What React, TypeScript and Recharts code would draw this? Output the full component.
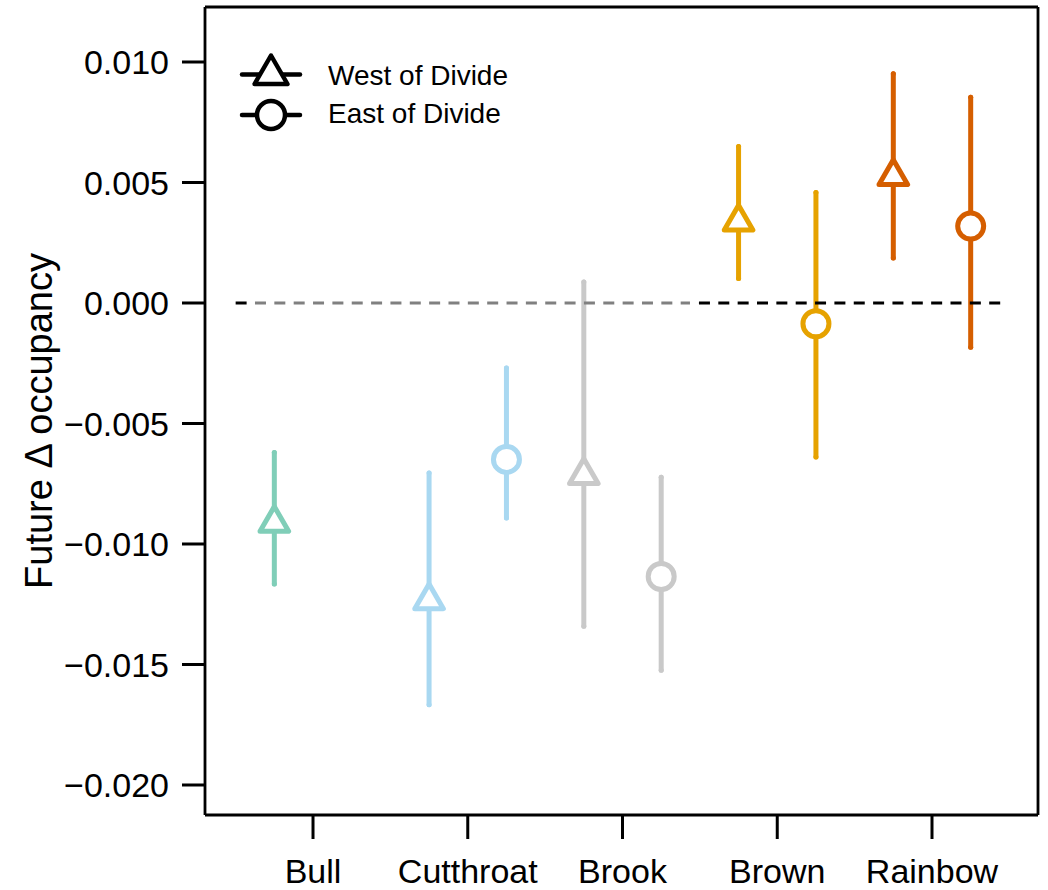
import { ScatterChart, Scatter, XAxis, YAxis, ErrorBar, ReferenceLine, Legend } from "recharts"

const species = ["Bull", "Cutthroat", "Brook", "Brown", "Rainbow"]
const colors = ["#80ceb8", "#a9d8f1", "#c9c9c9", "#e6a200", "#d55e00"]

// West of Divide (triangles)
const westMean = [-0.00913, -0.01234, -0.00715, 0.00337, 0.00526]
const westLow = [-0.01166, -0.01667, -0.01341, 0.00102, 0.00187]
const westHigh = [-0.0062, -0.00705, 0.00087, 0.00649, 0.00951]

// East of Divide (circles); no estimate for Bull
const eastMean = [null, -0.00649, -0.01135, -0.00086, 0.00319]
const eastLow = [null, -0.00892, -0.01524, -0.00639, -0.00184]
const eastHigh = [null, -0.0027, -0.00723, 0.00458, 0.00854]

const yTicks = [-0.02, -0.015, -0.01, -0.005, 0, 0.005, 0.01]
const xTicks = [1, 2, 3, 4, 5]

const FONT = "'Liberation Sans', Arial, Helvetica, sans-serif"
const X_DOMAIN: [number, number] = [0.302, 5.685]
const Y_DOMAIN: [number, number] = [-0.021245, 0.012282]

const seriesFor = (i: number) => {
  const pts = [
    { x: i + 1 - 0.25, y: westMean[i], err: [westMean[i] - westLow[i], westHigh[i] - westMean[i]], side: "west" },
  ]
  const m = eastMean[i]
  if (m !== null) {
    pts.push({ x: i + 1 + 0.25, y: m, err: [m - (eastLow[i] as number), (eastHigh[i] as number) - m], side: "east" })
  }
  return pts
}

const fmtY = (v: number) => (v < 0 ? "\u2212" + Math.abs(v).toFixed(3) : v.toFixed(3))

const makeShape = (color: string) => (props: any) => {
  const { cx, cy, payload } = props
  if (payload.side === "west") {
    const r = 16.5
    const h = r * 0.866
    return (
      <path
        d={`M${cx},${cy - r}L${cx + h},${cy + r / 2}L${cx - h},${cy + r / 2}Z`}
        fill="#fff"
        stroke={color}
        strokeWidth={5}
        strokeLinejoin="round"
      />
    )
  }
  return <circle cx={cx} cy={cy} r={13} fill="#fff" stroke={color} strokeWidth={5} />
}

const renderLegend = () => (
  <svg width={320} height={100} style={{ display: "block", overflow: "visible" }}>
    <line x1={12} x2={70} y1={34.5} y2={34.5} stroke="#000" strokeWidth={4.5} strokeLinecap="round" />
    <path
      d={`M41,${34.5 - 19}L${41 + 19 * 0.866},${34.5 + 9.5}L${41 - 19 * 0.866},${34.5 + 9.5}Z`}
      fill="#fff"
      stroke="#000"
      strokeWidth={4.5}
      strokeLinejoin="round"
    />
    <text x={98} y={45} fontSize={28} fontFamily={FONT} fill="#000">
      West of Divide
    </text>
    <line x1={12} x2={70} y1={75} y2={75} stroke="#000" strokeWidth={4.5} strokeLinecap="round" />
    <circle cx={41} cy={75} r={14} fill="#fff" stroke="#000" strokeWidth={4.5} />
    <text x={98} y={83} fontSize={28} fontFamily={FONT} fill="#000">
      East of Divide
    </text>
  </svg>
)

const YLabel = () => (
  <text
    x={52}
    y={421}
    transform="rotate(-90 52 421)"
    textAnchor="middle"
    fontSize={38}
    fontFamily={FONT}
    fill="#000"
  >
    Future Δ occupancy
  </text>
)

export default function App() {
  return (
    <div style={{ position: "absolute", left: 0, top: 0, width: 1048, height: 890, background: "#fff" }}>
      <ScatterChart width={1048} height={890} margin={{ top: 7, right: 10, bottom: 0, left: 0 }}>
        <XAxis
          type="number"
          dataKey="x"
          domain={X_DOMAIN}
          ticks={xTicks}
          allowDataOverflow
          tickFormatter={(v: number) => species[v - 1]}
          height={75}
          tickSize={24}
          tickMargin={20}
          axisLine={{ stroke: "#000", strokeWidth: 2.8 }}
          tickLine={{ stroke: "#000", strokeWidth: 3 }}
          tick={{ fontSize: 34, fill: "#000", fontFamily: FONT }}
        />
        <YAxis
          type="number"
          dataKey="y"
          domain={Y_DOMAIN}
          ticks={yTicks}
          allowDataOverflow
          tickFormatter={fmtY}
          width={205}
          tickSize={23}
          tickMargin={13}
          axisLine={{ stroke: "#000", strokeWidth: 2.8 }}
          tickLine={{ stroke: "#000", strokeWidth: 3 }}
          tick={{ fontSize: 34, fill: "#000", fontFamily: FONT }}
          label={<YLabel />}
        />
        {species.map((s, i) => (
          <Scatter
            key={s}
            name={s}
            data={seriesFor(i)}
            isAnimationActive={false}
            shape={makeShape(colors[i])}
            legendType="none"
          >
            <ErrorBar
              dataKey="err"
              direction="y"
              width={0}
              stroke={colors[i]}
              strokeWidth={5}
              strokeLinecap="round"
              isAnimationActive={false}
            />
          </Scatter>
        ))}
        <ReferenceLine
          segment={[{ x: 0.5, y: 0 }, { x: 0.571, y: 0 }]}
          stroke="#000"
          strokeWidth={3}
          strokeDasharray="11 8.35"
        />
        <ReferenceLine
          segment={[{ x: 0.625, y: 0 }, { x: 3.436, y: 0 }]}
          stroke="#808080"
          strokeWidth={3}
          strokeDasharray="11 8.35"
        />
        <ReferenceLine
          segment={[{ x: 3.494, y: 0 }, { x: 5.441, y: 0 }]}
          stroke="#000"
          strokeWidth={3}
          strokeDasharray="11 8.35"
        />
        <ReferenceLine y={Y_DOMAIN[1]} stroke="#000" strokeWidth={2.8} />
        <ReferenceLine x={X_DOMAIN[1]} stroke="#000" strokeWidth={2.8} />
        <Legend
          content={renderLegend}
          wrapperStyle={{ position: "absolute", left: 230, top: 40, width: 0, height: 0, overflow: "visible" }}
        />
      </ScatterChart>
    </div>
  )
}
